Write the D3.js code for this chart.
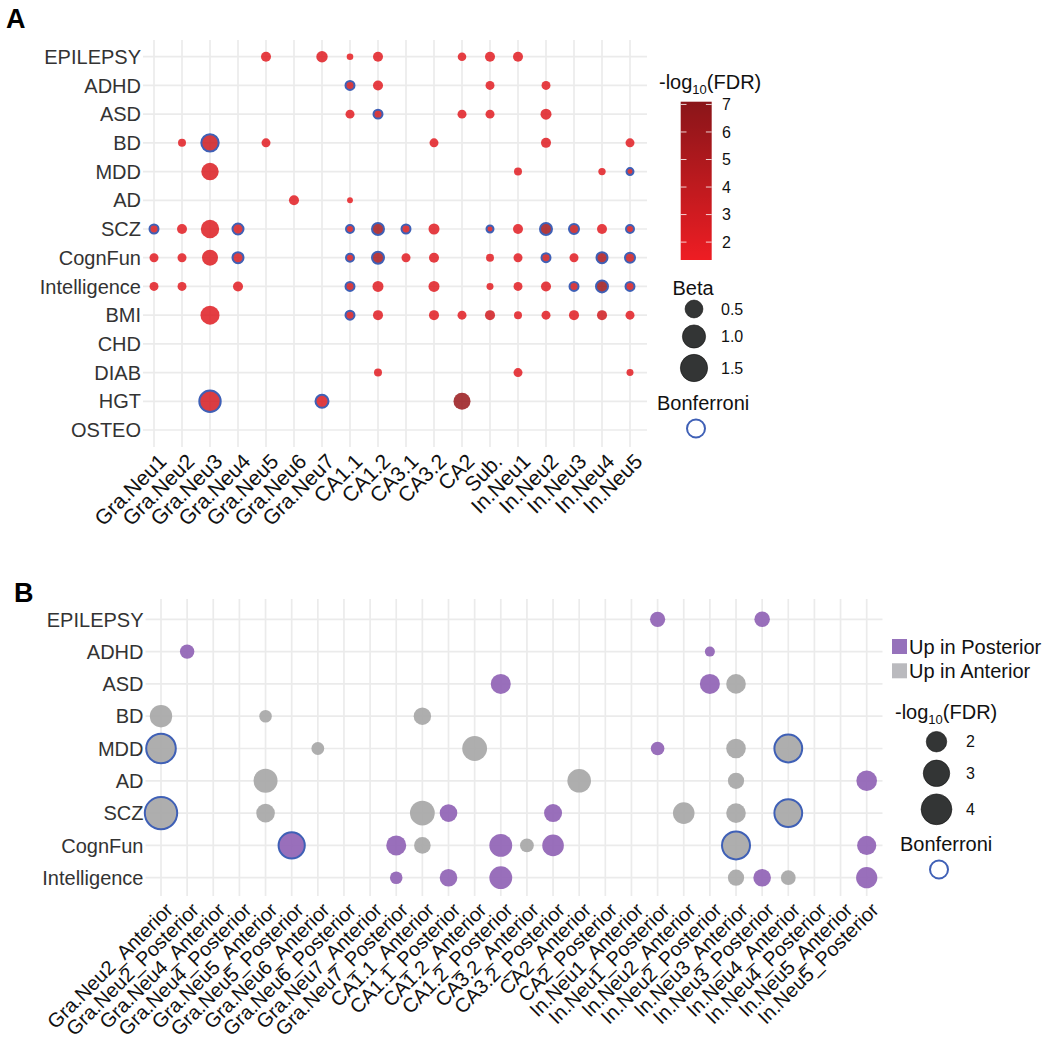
<!DOCTYPE html>
<html><head><meta charset="utf-8">
<script src="https://cdn.jsdelivr.net/npm/d3@7"></script>
<style>body{margin:0;background:#fff} text{font-family:"Liberation Sans",Arial,Helvetica,sans-serif}</style>
</head><body><svg id="c" width="1050" height="1044"></svg>
<script>
// ---------- Panel A data ----------
const traitsA = ["EPILEPSY","ADHD","ASD","BD","MDD","AD","SCZ","CognFun","Intelligence","BMI","CHD","DIAB","HGT","OSTEO"];
const cellsA = ["Gra.Neu1","Gra.Neu2","Gra.Neu3","Gra.Neu4","Gra.Neu5","Gra.Neu6","Gra.Neu7","CA1.1","CA1.2","CA3.1","CA3.2","CA2","Sub.","In.Neu1","In.Neu2","In.Neu3","In.Neu4","In.Neu5"];
// [trait, cell, beta, -log10(FDR), bonferroni]
const pointsA = [
 ["EPILEPSY","Gra.Neu5",0.076,2.0,0],["EPILEPSY","Gra.Neu7",0.124,2.2,0],["EPILEPSY","CA1.1",0.008,1.8,0],["EPILEPSY","CA1.2",0.076,2.0,0],["EPILEPSY","CA2",0.039,2.0,0],["EPILEPSY","Sub.",0.076,2.0,0],["EPILEPSY","In.Neu1",0.076,2.0,0],
 ["ADHD","CA1.1",0.048,3.0,1],["ADHD","CA1.2",0.076,2.0,0],["ADHD","Sub.",0.048,2.0,0],["ADHD","In.Neu2",0.048,2.0,0],
 ["ASD","CA1.1",0.048,2.0,0],["ASD","CA1.2",0.048,3.0,1],["ASD","CA2",0.048,2.0,0],["ASD","Sub.",0.048,2.0,0],["ASD","In.Neu2",0.109,2.2,0],
 ["BD","Gra.Neu2",0.027,2.0,0],["BD","Gra.Neu3",0.465,3.2,1],["BD","Gra.Neu5",0.048,2.0,0],["BD","CA3.2",0.048,2.0,0],["BD","In.Neu2",0.076,2.2,0],["BD","In.Neu5",0.048,2.0,0],
 ["MDD","Gra.Neu3",0.465,2.4,0],["MDD","In.Neu1",0.027,2.0,0],["MDD","In.Neu4",0.017,2.0,0],["MDD","In.Neu5",0.012,3.0,1],
 ["AD","Gra.Neu6",0.076,2.0,0],["AD","CA1.1",0.002,1.8,0],
 ["SCZ","Gra.Neu1",0.048,2.6,1],["SCZ","Gra.Neu2",0.076,2.0,0],["SCZ","Gra.Neu3",0.543,2.3,0],["SCZ","Gra.Neu4",0.109,2.6,1],["SCZ","CA1.1",0.027,2.6,1],["SCZ","CA1.2",0.148,5.5,1],["SCZ","CA3.1",0.048,2.6,1],["SCZ","CA3.2",0.109,2.1,0],["SCZ","Sub.",0.012,2.6,1],["SCZ","In.Neu1",0.076,2.0,0],["SCZ","In.Neu2",0.148,5.5,1],["SCZ","In.Neu3",0.076,3.5,1],["SCZ","In.Neu4",0.076,2.0,0],["SCZ","In.Neu5",0.027,2.8,1],
 ["CognFun","Gra.Neu1",0.048,2.0,0],["CognFun","Gra.Neu2",0.048,2.0,0],["CognFun","Gra.Neu3",0.366,2.3,0],["CognFun","Gra.Neu4",0.109,2.6,1],["CognFun","CA1.1",0.027,2.6,1],["CognFun","CA1.2",0.148,5.2,1],["CognFun","CA3.1",0.048,2.0,0],["CognFun","CA3.2",0.076,2.1,0],["CognFun","Sub.",0.027,2.0,0],["CognFun","In.Neu1",0.048,2.0,0],["CognFun","In.Neu2",0.048,3.3,1],["CognFun","In.Neu3",0.048,2.0,0],["CognFun","In.Neu4",0.109,5.0,1],["CognFun","In.Neu5",0.076,3.3,1],
 ["Intelligence","Gra.Neu1",0.048,2.0,0],["Intelligence","Gra.Neu2",0.048,2.0,0],["Intelligence","Gra.Neu4",0.076,2.0,0],["Intelligence","CA1.1",0.048,3.0,1],["Intelligence","CA1.2",0.109,2.2,0],["Intelligence","CA3.2",0.109,2.2,0],["Intelligence","Sub.",0.012,2.0,0],["Intelligence","In.Neu1",0.048,2.0,0],["Intelligence","In.Neu2",0.076,2.2,0],["Intelligence","In.Neu3",0.048,3.0,1],["Intelligence","In.Neu4",0.148,6.0,1],["Intelligence","In.Neu5",0.048,2.8,1],
 ["BMI","Gra.Neu3",0.593,2.2,0],["BMI","CA1.1",0.048,2.8,1],["BMI","CA1.2",0.076,2.1,0],["BMI","CA3.2",0.076,2.1,0],["BMI","CA2",0.048,2.0,0],["BMI","Sub.",0.076,3.0,0],["BMI","In.Neu1",0.027,2.0,0],["BMI","In.Neu2",0.048,2.0,0],["BMI","In.Neu3",0.076,2.1,0],["BMI","In.Neu4",0.076,3.0,0],["BMI","In.Neu5",0.048,2.0,0],
 ["DIAB","CA1.2",0.027,2.0,0],["DIAB","In.Neu1",0.048,2.0,0],["DIAB","In.Neu5",0.012,2.0,0],
 ["HGT","Gra.Neu3",0.813,2.8,1],["HGT","Gra.Neu7",0.194,2.4,1],["HGT","CA2",0.435,6.2,0]
];
const fdrTicksA = [2,3,4,5,6,7];
const betaBreaks = [0.5,1.0,1.5];

// ---------- Panel B data ----------
const traitsB = ["EPILEPSY","ADHD","ASD","BD","MDD","AD","SCZ","CognFun","Intelligence"];
const cellsB = ["Gra.Neu2_Anterior","Gra.Neu2_Posterior","Gra.Neu4_Anterior","Gra.Neu4_Posterior","Gra.Neu5_Anterior","Gra.Neu5_Posterior","Gra.Neu6_Anterior","Gra.Neu6_Posterior","Gra.Neu7_Anterior","Gra.Neu7_Posterior","CA1.1_Anterior","CA1.1_Posterior","CA1.2_Anterior","CA1.2_Posterior","CA3.2_Anterior","CA3.2_Posterior","CA2_Anterior","CA2_Posterior","In.Neu1_Anterior","In.Neu1_Posterior","In.Neu2_Anterior","In.Neu2_Posterior","In.Neu3_Anterior","In.Neu3_Posterior","In.Neu4_Anterior","In.Neu4_Posterior","In.Neu5_Anterior","In.Neu5_Posterior"];
const directions = ["Up in Posterior","Up in Anterior"];
// [trait, cell, -log10(FDR), direction index, bonferroni]
const pointsB = [
 ["EPILEPSY","In.Neu1_Posterior",1.49,0,0],["EPILEPSY","In.Neu3_Posterior",1.51,0,0],
 ["ADHD","Gra.Neu2_Posterior",1.44,0,0],["ADHD","In.Neu2_Posterior",1.32,0,0],
 ["ASD","CA1.2_Posterior",1.94,0,0],["ASD","In.Neu2_Posterior",1.94,0,0],["ASD","In.Neu3_Anterior",1.89,1,0],
 ["BD","Gra.Neu2_Anterior",2.27,1,0],["BD","Gra.Neu5_Anterior",1.36,1,0],["BD","CA1.1_Anterior",1.66,1,0],
 ["MDD","Gra.Neu2_Anterior",3.70,1,1],["MDD","Gra.Neu6_Anterior",1.37,1,0],["MDD","CA1.2_Anterior",2.68,1,0],["MDD","In.Neu1_Posterior",1.40,0,0],["MDD","In.Neu3_Anterior",1.89,1,0],["MDD","In.Neu4_Anterior",3.28,1,1],
 ["AD","Gra.Neu5_Anterior",2.54,1,0],["AD","CA2_Anterior",2.47,1,0],["AD","In.Neu3_Anterior",1.56,1,0],["AD","In.Neu5_Posterior",2.02,0,0],
 ["SCZ","Gra.Neu2_Anterior",4.43,1,1],["SCZ","Gra.Neu5_Anterior",1.78,1,0],["SCZ","CA1.1_Anterior",2.68,1,0],["SCZ","CA1.1_Posterior",1.68,0,0],["SCZ","CA3.2_Posterior",1.72,0,0],["SCZ","In.Neu2_Anterior",2.15,1,0],["SCZ","In.Neu3_Anterior",1.89,1,0],["SCZ","In.Neu4_Anterior",3.28,1,1],
 ["CognFun","Gra.Neu5_Posterior",2.95,0,1],["CognFun","Gra.Neu7_Posterior",1.94,0,0],["CognFun","CA1.1_Anterior",1.59,1,0],["CognFun","CA1.2_Posterior",2.34,0,0],["CognFun","CA3.2_Anterior",1.41,1,0],["CognFun","CA3.2_Posterior",2.15,0,0],["CognFun","In.Neu3_Anterior",3.33,1,1],["CognFun","In.Neu5_Posterior",1.84,0,0],
 ["Intelligence","Gra.Neu7_Posterior",1.36,0,0],["Intelligence","CA1.1_Posterior",1.68,0,0],["Intelligence","CA1.2_Posterior",2.34,0,0],["Intelligence","In.Neu3_Anterior",1.56,1,0],["Intelligence","In.Neu3_Posterior",1.68,0,0],["Intelligence","In.Neu4_Anterior",1.46,1,0],["Intelligence","In.Neu5_Posterior",2.10,0,0]
];
const fdrBreaksB = [2,3,4];

// ---------- styling ----------
const GRID = "#EBEBEB", BONF = "#3F60B6", YTXT = "#333", XTXT = "#111";
const svg = d3.select("#c");

function grid(g, x, y, cells, traits, left, right, top, bottom, xfs){
  g.selectAll(".vg").data(cells).join("line").attr("x1",d=>x(d)).attr("x2",d=>x(d)).attr("y1",top).attr("y2",bottom).attr("stroke",GRID).attr("stroke-width",1.7);
  g.selectAll(".hg").data(traits).join("line").attr("class","hg").attr("x1",left).attr("x2",right).attr("y1",d=>y(d)).attr("y2",d=>y(d)).attr("stroke",GRID).attr("stroke-width",1.7);
  g.append("g").selectAll("text").data(traits).join("text").attr("x",left-2).attr("y",d=>y(d)).attr("dy","0.36em").attr("text-anchor","end").attr("font-size",20).attr("fill",YTXT).text(d=>d);
  g.append("g").selectAll("text").data(cells).join("text")
    .attr("transform",d=>`translate(${x(d)+3},${bottom+5}) rotate(-45)`)
    .attr("dy","0.72em").attr("text-anchor","end").attr("font-size",xfs).attr("fill",XTXT).text(d=>d);
}

function logTitle(g, x, y){
  const t = g.append("text").attr("x",x).attr("y",y).attr("font-size",20).attr("fill","#111");
  t.append("tspan").text("-log");
  t.append("tspan").attr("font-size",13).attr("dy",5).text("10");
  t.append("tspan").attr("dy",-5).text("(FDR)");
}

// ---------- Panel A ----------
const xA = d3.scalePoint().domain(cellsA).range([154,630]);
const yA = d3.scalePoint().domain(traitsA).range([56.7,430]);
const rA = d3.scaleSqrt().domain([0,1.6]).range([2.5,14]);
const colA = d3.scaleLinear().domain([1.35,7.1]).range(["#EE1D23","#8A1519"]).interpolate(d3.interpolateLab);
const gA = svg.append("g");
gA.append("text").attr("x",6).attr("y",27.5).attr("font-size",27).attr("font-weight","bold").text("A");
grid(gA, xA, yA, cellsA, traitsA, 143, 647, 40, 447, 21);
gA.append("g").selectAll("circle").data(pointsA).join("circle")
  .attr("cx",d=>xA(d[1])).attr("cy",d=>yA(d[0])).attr("r",d=>rA(d[2]))
  .attr("fill",d=>colA(d[3])).attr("fill-opacity",0.85)
  .attr("stroke",d=>d[4]?BONF:"none").attr("stroke-width",2);

// colorbar legend
logTitle(gA, 659, 89);
const cbY = d3.scaleLinear().domain([1.35,7.1]).range([260,101.7]);
const defs = svg.append("defs");
const lg = defs.append("linearGradient").attr("id","cbar").attr("x1",0).attr("x2",0).attr("y1",1).attr("y2",0);
d3.range(0,1.0001,0.05).forEach(t=>lg.append("stop").attr("offset",t).attr("stop-color",colA(1.35+t*5.75)));
gA.append("rect").attr("x",680.7).attr("y",101.7).attr("width",31).attr("height",158.3).attr("fill","url(#cbar)");
fdrTicksA.forEach(v=>{
  gA.append("line").attr("x1",680.7).attr("x2",686.5).attr("y1",cbY(v)).attr("y2",cbY(v)).attr("stroke","#fff").attr("stroke-opacity",0.8);
  gA.append("line").attr("x1",705.9).attr("x2",711.7).attr("y1",cbY(v)).attr("y2",cbY(v)).attr("stroke","#fff").attr("stroke-opacity",0.8);
  gA.append("text").attr("x",722).attr("y",cbY(v)).attr("dy","0.36em").attr("font-size",16).attr("fill","#111").text(v);
});
// Beta legend
gA.append("text").attr("x",672.5).attr("y",295).attr("font-size",20).attr("fill","#111").text("Beta");
const betaY = [309,336.5,368];
betaBreaks.forEach((b,i)=>{
  gA.append("circle").attr("cx",694).attr("cy",betaY[i]).attr("r",rA(b)).attr("fill","#333535").attr("stroke","#111").attr("stroke-width",0.6);
  gA.append("text").attr("x",721).attr("y",betaY[i]).attr("dy","0.36em").attr("font-size",16).attr("fill","#111").text(b.toFixed(1));
});
gA.append("text").attr("x",657).attr("y",410).attr("font-size",20).attr("fill","#111").text("Bonferroni");
gA.append("circle").attr("cx",696).attr("cy",428.5).attr("r",9).attr("fill","none").attr("stroke",BONF).attr("stroke-width",2);

// ---------- Panel B ----------
const xB = d3.scalePoint().domain(cellsB).range([161,866.7]);
const yB = d3.scalePoint().domain(traitsB).range([619.3,877.7]);
const minB = d3.min(pointsB,d=>d[2]), maxB = d3.max(pointsB,d=>d[2]);
const rBs = d3.scaleSqrt().domain([0,maxB-minB]).range([5,16.2]);
const rB = v => rBs(v-minB);
const dirFill = d3.scaleOrdinal().domain([0,1]).range(["#9063B5","#A7A7A7"]);
const dirKey = d3.scaleOrdinal().domain([0,1]).range(["#9672BB","#BABABE"]);
const gB = svg.append("g");
gB.append("text").attr("x",14).attr("y",601.5).attr("font-size",27).attr("font-weight","bold").text("B");
grid(gB, xB, yB, cellsB, traitsB, 145.5, 882.5, 599, 896, 20);
gB.append("g").selectAll("circle").data(pointsB).join("circle")
  .attr("cx",d=>xB(d[1])).attr("cy",d=>yB(d[0])).attr("r",d=>rB(d[2]))
  .attr("fill",d=>dirFill(d[3])).attr("fill-opacity",0.92)
  .attr("stroke",d=>d[4]?BONF:"none").attr("stroke-width",2);

// direction legend
directions.forEach((name,i)=>{
  const yy = 639 + i*24.3;
  gB.append("rect").attr("x",892).attr("y",yy).attr("width",15).attr("height",15).attr("fill",dirKey(i));
  gB.append("text").attr("x",909).attr("y",yy+7.5).attr("dy","0.36em").attr("font-size",20).attr("fill","#111").text(name);
});
logTitle(gB, 895, 719);
const sizeY = [741.7,773.3,809.3];
fdrBreaksB.forEach((v,i)=>{
  gB.append("circle").attr("cx",936.5).attr("cy",sizeY[i]).attr("r",rB(v)).attr("fill","#333535").attr("stroke","#111").attr("stroke-width",0.6);
  gB.append("text").attr("x",966).attr("y",sizeY[i]).attr("dy","0.36em").attr("font-size",16).attr("fill","#111").text(v);
});
gB.append("text").attr("x",900).attr("y",851).attr("font-size",20).attr("fill","#111").text("Bonferroni");
gB.append("circle").attr("cx",939).attr("cy",869.5).attr("r",9).attr("fill","none").attr("stroke",BONF).attr("stroke-width",2);
</script></body></html>
